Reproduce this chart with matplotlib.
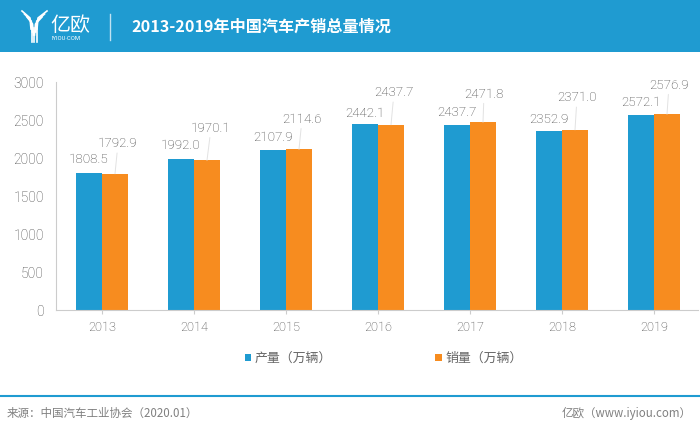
import matplotlib
matplotlib.use('Agg')
import matplotlib.pyplot as plt
import numpy as np

plt.rcParams['font.family'] = ['Roboto', 'Noto Sans CJK SC', 'DejaVu Sans']
plt.rcParams['font.weight'] = 'light'

years = ['2013', '2014', '2015', '2016', '2017', '2018', '2019']
production = [1808.5, 1992.0, 2107.9, 2442.1, 2437.7, 2352.9, 2572.1]
sales = [1792.9, 1970.1, 2114.6, 2437.7, 2471.8, 2371.0, 2576.9]
y_ticks = [0, 500, 1000, 1500, 2000, 2500, 3000]

BLUE = '#1f9bd1'
ORANGE = '#f78c1f'
GREY = '#444444'
W, H = 700, 430

fig = plt.figure(figsize=(7, 4.3), dpi=100, facecolor='white')


def px_text(x, y, s, **kw):
    # text placed in pixel coords, y from top
    return fig.text(x / W, 1 - y / H, s, **kw)


def px_line(xs, ys, **kw):
    fig.add_artist(plt.Line2D([x / W for x in xs], [1 - y / H for y in ys], **kw))


# header band
fig.add_artist(plt.Rectangle((0, 1 - 52 / H), 1, 52 / H, color=BLUE, lw=0))
for dx, top in ((0, 12), (2.5, 15), (5, 18)):
    px_line([22 + dx, 30 + dx / 2, 33 - 2 + dx / 2], [top - 1, top + 6, top + 17], color='white', lw=1.2)
    px_line([47 - dx, 38 - dx / 2, 35 + 2 - dx / 2], [top - 1, top + 6, top + 17], color='white', lw=1.2)
for dx in (-2.5, 0, 2.5):
    px_line([34 + dx, 34 + dx], [28, 42], color='white', lw=1.2)
px_text(50, 25.5, '亿欧', color='white', fontsize=14.4, va='center', family=['Noto Sans CJK SC'], weight='light')
px_text(51, 38.5, 'IYIOU·COM', color='white', fontsize=4.2, va='center', weight='normal')
px_line([110, 110], [14, 40], color='#bfe2f2', lw=1)
px_text(131, 26.5, '2013-2019年中国汽车产销总量情况', color='white', fontsize=11.6,
        va='center', weight='bold', family=['Noto Sans CJK SC'])

# main axes, pixel mapped
ax = fig.add_axes([56 / W, 1 - 310 / H, (698 - 56) / W, 228 / H])
x = np.arange(len(years))
bar_w = 26 / 92
ax.bar(x - bar_w / 2, production, bar_w, color=BLUE, label='产量（万辆）')
ax.bar(x + bar_w / 2, sales, bar_w, color=ORANGE, label='销量（万辆）')
ax.set_xlim(-0.5, -0.5 + (698 - 56) / 92)
ax.set_ylim(0, 3000)
ax.set_xticks(x)
ax.set_xticklabels(years)
ax.set_yticks(y_ticks)
ax.tick_params(axis='x', length=3, color='#cccccc', labelsize=9.2, labelcolor=GREY, pad=5)
ax.tick_params(axis='y', length=0, labelsize=10, labelcolor=GREY, pad=8.6)
for label in ax.get_yticklabels():
    label.set_y(label.get_position()[1])
for side in ('top', 'right'):
    ax.spines[side].set_visible(False)
for side in ('left', 'bottom'):
    ax.spines[side].set_color('#cccccc')

# label offsets from the top of each bar, in pixels
prod_dy = [13, 13, 12, 11, 12, 12, 12]
sales_dx = [3, 4, 3, 3, 1, 2, 2]
sales_dy = [30, 32, 30, 32, 28, 32, 29]
for i, v in enumerate(production):
    ax.annotate(f'{v:.1f}', (x[i] - bar_w / 2, v), xytext=(0, prod_dy[i]),
                textcoords='offset pixels', ha='center', va='center', fontsize=9.6,
                color=GREY, annotation_clip=False)
for i, v in enumerate(sales):
    ax.annotate(f'{v:.1f}', (x[i] + bar_w / 2, v), xytext=(sales_dx[i], sales_dy[i]),
                textcoords='offset pixels', ha='center', va='center', fontsize=9.6,
                color=GREY, annotation_clip=False,
                arrowprops=dict(arrowstyle='-', color='#e2e2e2', lw=0.7, shrinkA=0, shrinkB=0))

# legend
fig.add_artist(plt.Rectangle((245 / W, 1 - 361 / H), 6 / W, 7 / H, color=BLUE, lw=0))
px_text(255, 358, '产量（万辆）', color='#666666', fontsize=9.3, va='center', family=['Noto Sans CJK SC'], weight='light')
fig.add_artist(plt.Rectangle((435 / W, 1 - 361 / H), 7 / W, 7 / H, color=ORANGE, lw=0))
px_text(446, 358, '销量（万辆）', color='#666666', fontsize=9.3, va='center', family=['Noto Sans CJK SC'], weight='light')

# footer
px_line([0, 700], [396, 396], color=BLUE, lw=1.5)
px_text(7, 413, '来源：中国汽车工业协会（2020.01）', color='#808080', fontsize=8.3, va='center',
        family=['Noto Sans CJK SC'], weight='light')
px_text(692, 413, '亿欧（www.iyiou.com）', color='#808080', fontsize=8.3, va='center', ha='right',
        family=['Noto Sans CJK SC'], weight='light')

fig.savefig('out.png', dpi=100)
